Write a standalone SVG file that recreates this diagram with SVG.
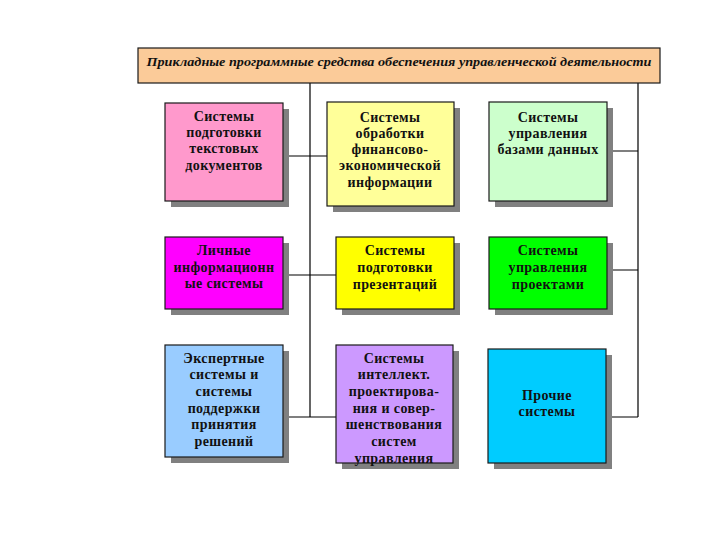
<svg xmlns="http://www.w3.org/2000/svg" width="720" height="540" viewBox="0 0 720 540">
<style>
.box{stroke:#1a1a1a;stroke-width:1.2}
.sh{fill:#808080}
.t{font-family:"Liberation Serif","Times New Roman",serif;font-weight:bold;font-size:14px;letter-spacing:0.4px;fill:#111;text-anchor:middle}
.ttl{font-family:"Liberation Serif","Times New Roman",serif;font-weight:bold;font-style:italic;font-size:13px;fill:#111;text-anchor:middle}
.ln{stroke:#000;stroke-width:1.2;fill:none}
</style>
<rect width="720" height="540" fill="#fff"/>
<g id="connectors">
<path class="ln" d="M310 83V417M638 83V417"/>
<path class="ln" d="M283 156H327M283 275H336M283 417H336"/>
<path class="ln" d="M607 151H638M607 270H638M606 417H638"/>
</g>
<g id="title">
<rect x="138" y="48" width="522" height="35" fill="#FBCB99" stroke="#1a1a1a" stroke-width="1.2"/>
<text class="ttl" x="399" y="66" textLength="505" lengthAdjust="spacingAndGlyphs">Прикладные программные средства обеспечения управленческой деятельности</text>
</g>
<g id="n1">
<rect class="sh" x="171" y="109" width="118" height="98"/>
<rect class="box" x="165" y="103" width="118" height="98" fill="#FF99CC"/>
<text class="t" x="224" y="121">Системы</text>
<text class="t" x="224" y="137">подготовки</text>
<text class="t" x="224" y="153">текстовых</text>
<text class="t" x="224" y="170">документов</text>
</g>
<g id="n2">
<rect class="sh" x="333" y="108" width="127" height="104"/>
<rect class="box" x="327" y="102" width="127" height="104" fill="#FFFF99"/>
<text class="t" x="390" y="122">Системы</text>
<text class="t" x="390" y="138">обработки</text>
<text class="t" x="390" y="154">финансово-</text>
<text class="t" x="390" y="170">экономической</text>
<text class="t" x="390" y="187">информации</text>
</g>
<g id="n3">
<rect class="sh" x="495" y="108" width="118" height="99"/>
<rect class="box" x="489" y="102" width="118" height="99" fill="#CCFFCC"/>
<text class="t" x="548" y="122">Системы</text>
<text class="t" x="548" y="138">управления</text>
<text class="t" x="548" y="154">базами данных</text>
</g>
<g id="n4">
<rect class="sh" x="171" y="243" width="118" height="72"/>
<rect class="box" x="165" y="237" width="118" height="72" fill="#FF00FF"/>
<text class="t" x="224" y="255">Личные</text>
<text class="t" x="224" y="272">информационн</text>
<text class="t" x="224" y="288">ые системы</text>
</g>
<g id="n5">
<rect class="sh" x="342" y="243" width="118" height="72"/>
<rect class="box" x="336" y="237" width="118" height="72" fill="#FFFF00"/>
<text class="t" x="395" y="255">Системы</text>
<text class="t" x="395" y="272">подготовки</text>
<text class="t" x="395" y="289">презентаций</text>
</g>
<g id="n6">
<rect class="sh" x="495" y="243" width="118" height="72"/>
<rect class="box" x="489" y="237" width="118" height="72" fill="#00FF00"/>
<text class="t" x="548" y="255">Системы</text>
<text class="t" x="548" y="272">управления</text>
<text class="t" x="548" y="289">проектами</text>
</g>
<g id="n7">
<rect class="sh" x="171" y="351" width="118" height="112"/>
<rect class="box" x="165" y="345" width="118" height="112" fill="#99CCFF"/>
<text class="t" x="224" y="363">Экспертные</text>
<text class="t" x="224" y="379">системы и</text>
<text class="t" x="224" y="396">системы</text>
<text class="t" x="224" y="413">поддержки</text>
<text class="t" x="224" y="429">принятия</text>
<text class="t" x="224" y="446">решений</text>
</g>
<g id="n8">
<rect class="sh" x="342" y="351" width="117" height="118"/>
<rect class="box" x="336" y="345" width="117" height="118" fill="#CC99FF"/>
<text class="t" x="394" y="363">Системы</text>
<text class="t" x="394" y="379">интеллект.</text>
<text class="t" x="394" y="396">проектирова-</text>
<text class="t" x="394" y="413">ния и совер-</text>
<text class="t" x="394" y="429">шенствования</text>
<text class="t" x="394" y="446">систем</text>
<text class="t" x="394" y="463">управления</text>
</g>
<g id="n9">
<rect class="sh" x="494" y="355" width="118" height="114"/>
<rect class="box" x="488" y="349" width="118" height="114" fill="#00CCFF"/>
<text class="t" x="547" y="400">Прочие</text>
<text class="t" x="547" y="416">системы</text>
</g>
</svg>
